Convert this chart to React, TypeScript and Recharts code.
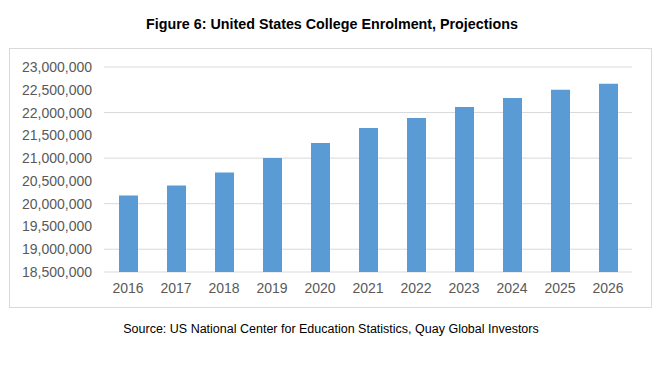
import React from "react";
import { BarChart, Bar, XAxis, YAxis, CartesianGrid } from "recharts";

const years = ["2016", "2017", "2018", "2019", "2020", "2021", "2022", "2023", "2024", "2025", "2026"];
const enrolment = [20180000, 20400000, 20685000, 21000000, 21330000, 21660000, 21880000, 22120000, 22320000, 22500000, 22635000];
const yTicks = [18500000, 19000000, 19500000, 20000000, 20500000, 21000000, 21500000, 22000000, 22500000, 23000000];

const title = "Figure 6: United States College Enrolment, Projections";
const source = "Source: US National Center for Education Statistics, Quay Global Investors";

const data = years.map((y, i) => ({ year: y, value: enrolment[i] }));

const FONT = "'Liberation Sans', Arial, sans-serif";

export default function App() {
  return (
    <div style={{ position: "absolute", left: 0, top: 0, width: 664, height: 370, background: "#fff", fontFamily: FONT }}>
      <div style={{ position: "absolute", left: 0, top: 16, width: 664, textAlign: "center", fontSize: 14.3, fontWeight: "bold", color: "#000" }}>
        {title}
      </div>
      <div style={{ position: "absolute", left: 9, top: 48, width: 641, height: 258, border: "1px solid #d9d9d9" }} />
      <div style={{ position: "absolute", left: 0, top: 322, width: 662, textAlign: "center", fontSize: 12.5, color: "#000" }}>
        {source}
      </div>
      <div style={{ position: "absolute", left: 0, top: 0 }}>
        <BarChart width={664} height={370} data={data} margin={{ top: 67, right: 32, left: 8, bottom: 68 }}>
          <CartesianGrid vertical={false} stroke="#d9d9d9" />
          <XAxis
            dataKey="year"
            axisLine={false}
            tickLine={false}
            tickSize={0}
            tickMargin={11}
            height={30}
            tick={{ fill: "#595959", fontSize: 14, fontFamily: FONT }}
            interval={0}
          />
          <YAxis
            domain={[18500000, 23000000]}
            ticks={yTicks}
            allowDataOverflow
            axisLine={false}
            tickLine={false}
            tickSize={0}
            tickMargin={12}
            width={96}
            tick={{ fill: "#595959", fontSize: 14, fontFamily: FONT }}
            tickFormatter={(v: number) => v.toLocaleString("en-US")}
          />
          <Bar dataKey="value" fill="#5b9bd5" barSize={19} isAnimationActive={false} />
        </BarChart>
      </div>
    </div>
  );
}
